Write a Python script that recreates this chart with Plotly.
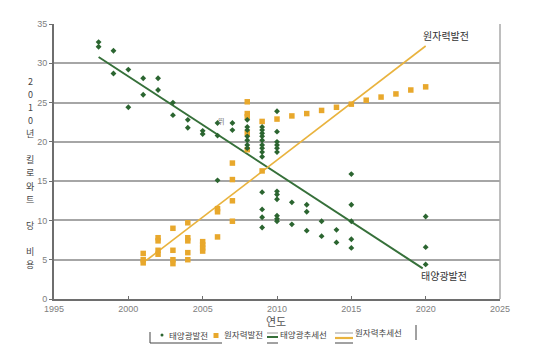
import plotly.graph_objects as go

# ---------------- data ----------------
solar_years = [1998, 1998, 1999, 1999, 2000, 2000, 2001, 2001, 2002, 2002,
               2003, 2003, 2004, 2004, 2005, 2005, 2006, 2006, 2006, 2007, 2007,
               2008, 2008, 2008, 2008, 2008, 2008, 2008,
               2009, 2009, 2009, 2009, 2009, 2009, 2009, 2009, 2009, 2009, 2009, 2009, 2009,
               2010, 2010, 2010, 2010, 2010, 2010, 2010, 2010, 2010, 2010, 2010, 2010,
               2011, 2011, 2012, 2012, 2012, 2013, 2013, 2014, 2014,
               2015, 2015, 2015, 2015, 2015, 2020, 2020, 2020]
solar_costs = [32.7, 32.1, 31.6, 28.7, 29.2, 24.4, 28.1, 26.0, 28.1, 26.6,
               25.0, 23.4, 22.8, 21.8, 21.4, 21.0, 22.4, 20.8, 15.1, 22.4, 21.5,
               22.8, 21.9, 21.5, 20.7, 20.2, 19.6, 19.2,
               21.9, 21.5, 21.1, 20.7, 20.2, 19.6, 19.2, 18.7, 18.1, 13.6, 11.4, 10.4, 9.1,
               23.9, 21.3, 20.0, 19.6, 19.2, 18.7, 13.7, 13.3, 12.7, 10.6, 10.2, 9.9,
               12.3, 9.5, 12.0, 11.1, 8.7, 9.9, 8.0, 8.8, 7.2,
               15.9, 12.0, 9.9, 7.6, 6.5, 10.5, 6.6, 4.4]

nuclear_years = [2001, 2001, 2001, 2002, 2002, 2002, 2002, 2003, 2003, 2003, 2003,
                 2004, 2004, 2004, 2004, 2004, 2005, 2005, 2005, 2005,
                 2006, 2006, 2006, 2007, 2007, 2007, 2007,
                 2008, 2008, 2008, 2008, 2008, 2009, 2009,
                 2010, 2011, 2012, 2013, 2014, 2015, 2016, 2017, 2018, 2019, 2020]
nuclear_costs = [5.8, 5.0, 4.6, 7.8, 7.4, 6.2, 5.7, 9.0, 6.2, 5.0, 4.5,
                 9.7, 7.8, 7.4, 5.9, 5.0, 7.3, 6.9, 6.5, 6.1,
                 11.5, 11.1, 7.9, 17.3, 15.2, 12.5, 9.9,
                 25.1, 23.6, 23.2, 21.1, 19.0, 22.6, 16.3,
                 22.9, 23.3, 23.6, 24.0, 24.4, 24.8, 25.3, 25.7, 26.1, 26.6, 27.0]

solar_trend_years = [1998, 2019.8]
solar_trend_costs = [30.8, 3.9]
nuclear_trend_years = [2001.2, 2020]
nuclear_trend_costs = [4.9, 32.2]

x_ticks = [1995, 2000, 2005, 2010, 2015, 2020, 2025]
y_ticks = [0, 5, 10, 15, 20, 25, 30, 35]

series_names = ["태양광발전", "원자력발전", "태양광추세선", "원자력추세선"]
x_title = "연도"
y_title = "2010년 킬로와트 당 비용"

GREEN = "#2b6530"
GREEN_LINE = "#36703a"
ORANGE = "#e8a82c"
ORANGE_LINE = "#e9b33e"
KFONT = "Noto Sans CJK KR"

# ---------------- figure ----------------
# page body has an 8px margin, so the figure is 8px smaller than the window
W, H = 542, 353
L, R, T, B = 46, 50, 16, 62
PW, PH = W - L - R, H - T - B
PLOT_X0, PLOT_Y1 = 54, 299  # plot-area left / bottom in window pixels


def px(x):
    return (x - PLOT_X0) / PW


def py(y):
    return (PLOT_Y1 - y) / PH


fig = go.Figure()
fig.add_trace(go.Scatter(x=solar_trend_years, y=solar_trend_costs, mode="lines",
                         name=series_names[2], line=dict(color=GREEN_LINE, width=2)))
fig.add_trace(go.Scatter(x=nuclear_trend_years, y=nuclear_trend_costs, mode="lines",
                         name=series_names[3], line=dict(color=ORANGE_LINE, width=1.6)))
fig.add_trace(go.Scatter(x=nuclear_years, y=nuclear_costs, mode="markers",
                         name=series_names[1],
                         marker=dict(symbol="square", size=5.5, color=ORANGE)))
fig.add_trace(go.Scatter(x=solar_years, y=solar_costs, mode="markers",
                         name=series_names[0],
                         marker=dict(symbol="diamond", size=4.5, color=GREEN)))

annotations = []
shapes = []


def text(t, x, y, size, color="#444", xanchor="center"):
    annotations.append(dict(text=t, x=px(x), y=py(y), xref="paper", yref="paper",
                            xanchor=xanchor, yanchor="middle", showarrow=False,
                            font=dict(family=KFONT, size=size, color=color)))


def line(x0, y0, x1, y1, color, width):
    shapes.append(dict(type="line", xref="paper", yref="paper", x0=px(x0), x1=px(x1),
                       y0=py(y0), y1=py(y1), line=dict(color=color, width=width)))


# right frame line
shapes.append(dict(type="line", xref="paper", yref="paper", x0=1, x1=1, y0=0, y1=1,
                   line=dict(color="#a8a8a8", width=1.5)))

# trend labels
text("원자력발전", 446, 35, 10, "#333")
text("태양광발전", 444, 275, 10, "#333")
# small stray glyph in the original
text("뛰", 221, 121, 7, "#777")

# x axis title
text(x_title, 276, 321, 11, "#555")

# vertical stacked y title, one upright character per slot
STEP = 13.1
start = 173 - STEP * (len(y_title) - 1) / 2
for i, ch in enumerate(y_title):
    if ch != " ":
        text(ch, 30, start + i * STEP, 9, "#444")

# manual legend
line(150, 332, 150, 343, "#444", 1)
line(150, 343, 222, 343, "#444", 1)
shapes.append(dict(type="circle", xref="paper", yref="paper", x0=px(160.5), x1=px(163.5),
                   y0=py(336.5), y1=py(333.5), fillcolor=GREEN, line=dict(width=0)))
text(series_names[0], 167, 335, 8.5, xanchor="left")
shapes.append(dict(type="rect", xref="paper", yref="paper", x0=px(213.5), x1=px(218.5),
                   y0=py(338), y1=py(333), fillcolor=ORANGE, line=dict(width=0)))
text(series_names[1], 222, 334, 8.5, xanchor="left")
line(267, 333, 278, 333, "#9a9a9a", 1)
line(267, 337, 278, 337, GREEN_LINE, 2)
line(267, 343, 278, 343, "#444", 1)
text(series_names[2], 278, 334, 8.5, xanchor="left")
line(335, 333, 353, 333, "#9a9a9a", 1)
line(335, 338, 353, 338, ORANGE_LINE, 2.2)
line(335, 343, 353, 343, "#444", 1)
text(series_names[3], 353, 332, 8.5, xanchor="left")
line(416, 325, 416, 340, "#444", 1)

fig.update_layout(
    width=W, height=H,
    margin=dict(l=L, r=R, t=T, b=B, pad=0),
    paper_bgcolor="white", plot_bgcolor="white",
    showlegend=False,
    font=dict(family="Liberation Sans, Arial, sans-serif", size=9, color="#808080"),
    xaxis=dict(range=[1995, 2025], tickvals=x_ticks, showgrid=False, zeroline=False,
               showline=True, linecolor="#6e6e6e", linewidth=2,
               ticks="inside", ticklen=3, tickcolor="#6e6e6e",
               tickfont=dict(size=9, color="#808080")),
    yaxis=dict(range=[0, 35], tickvals=y_ticks, showgrid=True, gridcolor="#a6a6a6",
               gridwidth=2, zeroline=False, showline=True, linecolor="#6e6e6e",
               linewidth=2, ticks="outside", ticklen=3, tickcolor="#6e6e6e",
               tickfont=dict(size=9, color="#808080")),
    annotations=annotations,
    shapes=shapes,
)

fig.write_html("out.html")
